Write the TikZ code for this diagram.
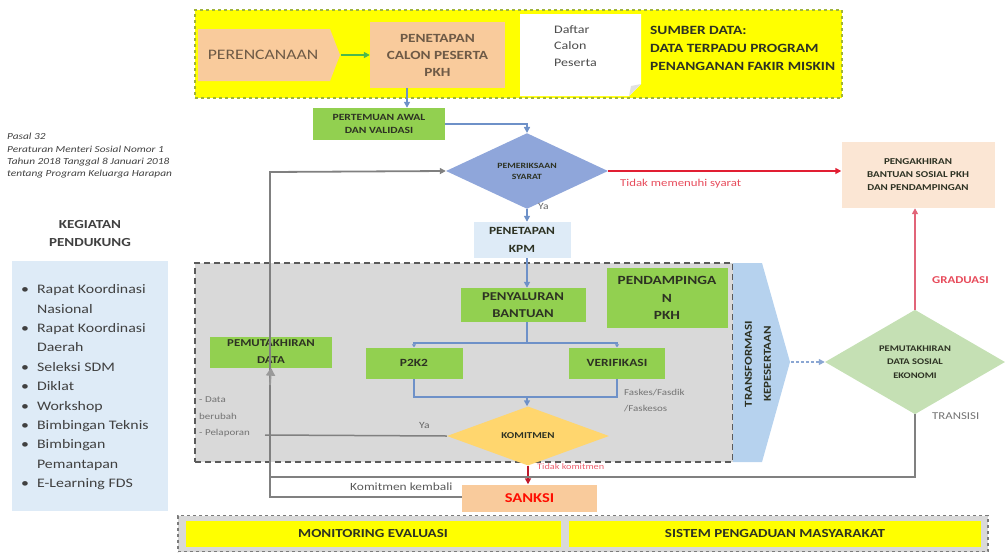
\documentclass[tikz,border=0pt]{standalone}
\usepackage{fontspec}
\setmainfont{Carlito}[FakeStretch=1.22]
\usetikzlibrary{shapes.geometric,arrows.meta,calc}
\definecolor{yel}{RGB}{255,255,0}
\definecolor{yelborder}{RGB}{160,180,60}
\definecolor{peach}{RGB}{249,203,156}
\definecolor{grn}{RGB}{146,208,80}
\definecolor{lblue}{RGB}{222,235,247}
\definecolor{diablue}{RGB}{143,166,218}
\definecolor{komit}{RGB}{255,214,110}
\definecolor{pengak}{RGB}{251,230,212}
\definecolor{dgreen}{RGB}{197,224,180}
\definecolor{trblue}{RGB}{182,210,238}
\definecolor{greyfill}{RGB}{217,217,217}
\definecolor{dashgrey}{RGB}{90,90,90}
\definecolor{lineg}{RGB}{128,128,128}
\definecolor{arrblue}{RGB}{110,145,200}
\definecolor{redl}{RGB}{225,30,50}
\definecolor{pinkl}{RGB}{225,100,120}
\definecolor{txtd}{RGB}{45,50,35}
\definecolor{txtb}{RGB}{110,90,70}
\newcommand{\fsz}[2]{\fontsize{#1}{#2}\selectfont}
\tikzset{
  box/.style={draw=none, align=center, inner sep=0pt, text=txtd, font=\bfseries\fsz{10}{15}},
  gbox/.style={box, fill=grn},
  dia/.style={diamond, inner sep=0pt, align=center, text=txtd},
  gline/.style={draw=lineg, line width=1.8pt},
  bline/.style={draw=arrblue, line width=1.8pt},
  tip/.style={-{Triangle[length=6pt,width=6pt]}},
  lbl/.style={inner sep=0pt, align=left, anchor=west},
}
\begin{document}
\begin{tikzpicture}[x=1pt,y=-1pt]
\useasboundingbox (0,0) rectangle (1006,552);
% ---- top yellow area
\node[draw=yelborder, dashed, line width=1.2pt, fill=yel, minimum width=647pt, minimum height=88pt, inner sep=0pt] (topbox) at (518.5,54) {};
\fill[peach] (198,29) -- (330,29) -- (340,55) -- (330,81) -- (198,81) -- cycle;
\node[inner sep=0pt, text=txtb, font=\fsz{14.5}{16}] (perenc) at (263,55) {PERENCANAAN};
\coordinate (perenctip) at (341,55);
\node[box, fill=peach, text=txtb, minimum width=135pt, minimum height=66pt, font=\bfseries\fsz{12.5}{17}] (pcalon) at (437.5,55) {PENETAPAN\\CALON PESERTA\\PKH};
\fill[white] (520,14) -- (641,14) -- (641,84) -- (629,96) -- (520,96) -- cycle;
\fill[black!12] (641,84) -- (629,96) -- (631,86) -- cycle;
\node[lbl, text=black!70, font=\fsz{11.5}{16.5}] (daftar) at (554,46) {Daftar\\Calon\\Peserta};
\node[lbl, text=txtd, font=\bfseries\fsz{12.6}{18}] (sumber) at (650,48) {SUMBER DATA:\\DATA TERPADU PROGRAM\\PENANGANAN FAKIR MISKIN};
% ---- flow
\node[gbox, minimum width=132pt, minimum height=32pt, font=\bfseries\fsz{9.5}{13}] (pertemuan) at (379,124) {PERTEMUAN AWAL\\DAN VALIDASI};
\node[dia, fill=diablue, minimum width=162pt, minimum height=50pt, font=\bfseries\fsz{8}{11}] (syarat) at (527,171) {PEMERIKSAAN\\SYARAT};
\node[box, fill=pengak, minimum width=153pt, minimum height=66pt, font=\bfseries\fsz{9}{13}] (pengakhiran) at (918,175) {PENGAKHIRAN\\BANTUAN SOSIAL PKH\\DAN PENDAMPINGAN};
\node[box, fill=lblue, minimum width=97pt, minimum height=36pt, font=\bfseries\fsz{11}{18}] (kpm) at (522,240) {PENETAPAN\\KPM};
% ---- grey dashed region
\node[draw=dashgrey, dashed, dash pattern=on 6pt off 4pt, line width=1.6pt, fill=greyfill, minimum width=538pt, minimum height=199pt, inner sep=0pt] (region) at (464,362.5) {};
\node[gbox, minimum width=125pt, minimum height=34pt, font=\bfseries\fsz{12}{17}] (penyaluran) at (523,305) {PENYALURAN\\BANTUAN};
\node[gbox, minimum width=121pt, minimum height=60pt, font=\bfseries\fsz{12.5}{17.5}] (pendamping) at (667,298) {PENDAMPINGA\\N\\PKH};
\node[gbox, minimum width=122pt, minimum height=31pt, font=\bfseries\fsz{10.5}{17}] (pemutakhiran) at (271,352) {PEMUTAKHIRAN\\DATA};
\node[gbox, minimum width=97pt, minimum height=31pt, font=\bfseries\fsz{11}{13}] (p2k2) at (414,363) {P2K2};
\node[gbox, minimum width=96pt, minimum height=31pt, font=\bfseries\fsz{11}{13}] (verif) at (617,363) {VERIFIKASI};
\node[dia, fill=komit, minimum width=162pt, minimum height=44pt, font=\bfseries\fsz{9}{10}] (komitmen) at (528,436) {KOMITMEN};
\node[lbl, text=black!55, font=\fsz{9}{16}] (fasktxt) at (624,401) {Faskes/Fasdik\\/Faskesos};
\node[lbl, text=black!55, font=\fsz{9}{16.5}] (datatxt) at (199,417) {- Data\\berubah\\- Pelaporan};
% ---- transformasi
\fill[trblue] (733,263) -- (762,263) -- (790,362) -- (762,462) -- (733,462) -- cycle;
\node[inner sep=0pt, rotate=90, align=center, text=txtd, font=\bfseries\fsz{10.6}{19}] (transf) at (758,364) {TRANSFORMASI\\KEPESERTAAN};
\coordinate (transtip) at (791,362);
\node[dia, fill=dgreen, minimum width=180pt, minimum height=80pt, font=\bfseries\fsz{8.6}{13.5}] (sosek) at (915,362) {PEMUTAKHIRAN\\DATA SOSIAL\\EKONOMI};
\node[box, fill=peach, minimum width=135pt, minimum height=27pt, text=red!90!orange, font=\bfseries\fsz{13.5}{14}] (sanksi) at (529.5,498) {SANKSI};
% ---- left side
\node[lbl, text=black!75, font=\itshape\fsz{9.3}{12.3}] (pasal) at (7,156) {Pasal 32\\Peraturan Menteri Sosial Nomor 1\\Tahun 2018 Tanggal 8 Januari 2018\\tentang Program Keluarga Harapan};
\node[inner sep=0pt, align=center, text=black!75, font=\bfseries\fsz{12.3}{18}] (kegtitle) at (90,234) {KEGIATAN\\PENDUKUNG};
\node[fill=lblue, minimum width=156pt, minimum height=250pt, inner sep=0pt] (kegbox) at (90,386) {};
\node[lbl, anchor=north west, text=black!75, font=\fsz{13}{19.4}] (kegiat) at (21,280) {%
\begin{tabular}{@{}l@{\hspace{8pt}}l@{}}
\textbullet & Rapat Koordinasi\\ & Nasional\\
\textbullet & Rapat Koordinasi\\ & Daerah\\
\textbullet & Seleksi SDM\\
\textbullet & Diklat\\
\textbullet & Workshop\\
\textbullet & Bimbingan Teknis\\
\textbullet & Bimbingan\\ & Pemantapan\\
\textbullet & E-Learning FDS
\end{tabular}};
% ---- bottom
\node[draw=dashgrey!80, dashed, line width=1.4pt, fill=greyfill, minimum width=810pt, minimum height=36pt, inner sep=0pt] (bottombox) at (583,533.5) {};
\node[box, fill=yel, minimum width=375pt, minimum height=26pt, font=\bfseries\fsz{12.3}{13}] (monev) at (373,534) {MONITORING EVALUASI};
\node[box, fill=yel, minimum width=412pt, minimum height=26pt, font=\bfseries\fsz{12.3}{13}] (sistem) at (775,534) {SISTEM PENGADUAN MASYARAKAT};
% ---- connectors
\draw[draw=green!60!black!70, line width=1.8pt, tip] (perenctip) -- (pcalon.west);
\coordinate (cdown) at (407,88);
\draw[bline, tip] (cdown) -- (cdown |- pertemuan.north);
\draw[bline, tip] (pertemuan.east) -| (syarat.north);
\draw[draw=redl, line width=2pt, tip] (syarat.east) -- (pengakhiran.west |- syarat.east);
\node[lbl, text=redl!80, font=\fsz{10.5}{11}] (tidak) at (620,184) {Tidak memenuhi syarat};
\draw[bline, tip] (syarat.south) -- (syarat.south |- kpm.north);
\node[lbl, text=black!60, font=\fsz{9.5}{11}] (ya1) at (538,206) {Ya};
\draw[bline, tip] (syarat.south |- kpm.south) -- (syarat.south |- penyaluran.north);
\coordinate (split) at (527,343);
\draw[bline] (syarat.south |- penyaluran.south) -- (split);
\draw[bline, -{Triangle[length=3pt,width=4pt]}] (split) -| (p2k2.north);
\draw[bline, -{Triangle[length=3pt,width=4pt]}] (split) -| (verif.north);
\coordinate (join) at (527,397);
\draw[bline] (p2k2.south) |- (join) -| (verif.south);
\draw[bline, tip] (join) -- (join |- komitmen.north);
\coordinate (yaend) at (265,435);
\draw[gline, line width=1.5pt] (komitmen.west) -- (yaend);
\node[lbl, text=black!60, font=\fsz{9.5}{11}] (ya2) at (419,425) {Ya};
\coordinate (lefttop) at (270,172);
\coordinate (leftbot) at (270,497);
\draw[gline, tip] (sanksi.west |- leftbot) -- (leftbot) -- (lefttop) -- (syarat.west);
\draw[draw=lineg!80, line width=1.8pt, -{Triangle[length=8pt,width=9pt]}] (270,385) -- (pemutakhiran.south);
\node[lbl, text=black!65, font=\fsz{11}{11}] (kembali) at (350,487) {Komitmen kembali};
\draw[draw=redl!85!black, line width=2pt, tip] (komitmen.south) -- (komitmen.south |- sanksi.north);
\node[lbl, text=redl!70, font=\fsz{8.4}{10}] (tidakk) at (537,467) {Tidak komitmen};
\draw[draw=arrblue!80, line width=1.5pt, dashed, dash pattern=on 3pt off 2pt, -{Triangle[length=6pt,width=6pt]}] (transtip) -- (sosek.west);
\draw[draw=pinkl, line width=1.6pt, tip] (sosek.north) -- (sosek.north |- pengakhiran.south);
\node[lbl, text=redl!80, font=\bfseries\fsz{10.5}{11}] (grad) at (932,280) {GRADUASI};
\coordinate (trcorner) at (915,477);
\draw[gline] (sosek.south) -- (trcorner) -- (270,477);
\node[lbl, text=black!55, font=\fsz{10.5}{11}] (transisi) at (932,416) {TRANSISI};
\end{tikzpicture}
\end{document}
